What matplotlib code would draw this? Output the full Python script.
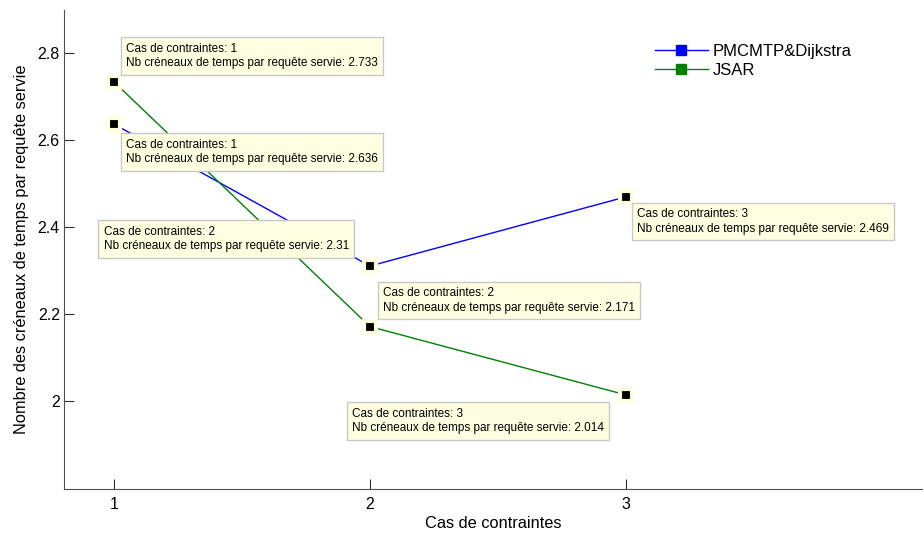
import numpy as np
import matplotlib
matplotlib.use('Agg')
from matplotlib import pyplot as plt

plt.rcParams['font.family'] = ['Liberation Sans', 'DejaVu Sans']

cas = [1, 2, 3]
pmcmtp = [2.636, 2.31, 2.469]
jsar = [2.733, 2.171, 2.014]
noms = ['PMCMTP&Dijkstra', 'JSAR']
couleurs = ['#0000ff', '#008000']

# offsets (pixels) of the data tip text, and which side it hangs from
tips_pm = [((12, -28), 'left'), ((-21, 27), 'right'), ((11, -25), 'left')]
tips_js = [((12, 26), 'left'), ((13, 26), 'left'), ((-22, -26), 'right')]

fig = plt.figure(figsize=(9.23, 5.33), dpi=100)
ax = fig.add_axes([64/923, 44/533, 1 - 64/923, 479/533])

for y, nom, c in zip([pmcmtp, jsar], noms, couleurs):
    ax.plot(cas, y, color=c, lw=1, marker='s', ms=7.5, mfc=c, mec=c, label=nom)

for y, tips in zip([pmcmtp, jsar], [tips_pm, tips_js]):
    for x, v, (off, ha) in zip(cas, y, tips):
        ax.plot(x, v, 's', ms=8, mfc='black', mec='#ffffe1', mew=3, zorder=5)
        ax.annotate('Cas de contraintes: %d\nNb créneaux de temps par requête servie: %s' % (x, v),
                    xy=(x, v), xytext=off, textcoords='offset pixels',
                    ha=ha, va='center', multialignment='left', fontsize=8.5, linespacing=1.3,
                    bbox=dict(boxstyle='square,pad=0.45', fc='#ffffe1', ec='#c8c8c8', lw=1),
                    zorder=6)

ax.set_xlim(0.805, 4.16)
ax.set_ylim(1.798, 2.898)
ax.set_xticks([1, 2, 3])
ax.set_yticks([2.0, 2.2, 2.4, 2.6, 2.8])
ax.set_yticklabels(['2', '2.2', '2.4', '2.6', '2.8'])
ax.spines['top'].set_visible(False)
ax.spines['right'].set_visible(False)
for s in ['left', 'bottom']:
    ax.spines[s].set_color('#505050')
ax.tick_params(axis='x', direction='in', length=7, labelsize=11.5, color='#303030', pad=6)
ax.tick_params(axis='y', direction='in', length=7, labelsize=11.5, color='#303030', pad=3)
ax.set_xlabel('Cas de contraintes', fontsize=11.8, labelpad=3)
ax.set_ylabel('Nombre des créneaux de temps par requête servie', fontsize=11.8, labelpad=6)

ax.legend(loc='upper left', bbox_to_anchor=(0.67, 0.96), frameon=False, fontsize=12,
          handlelength=3.2, handletextpad=0.3, labelspacing=0.25)

fig.savefig('out.png', dpi=100)
